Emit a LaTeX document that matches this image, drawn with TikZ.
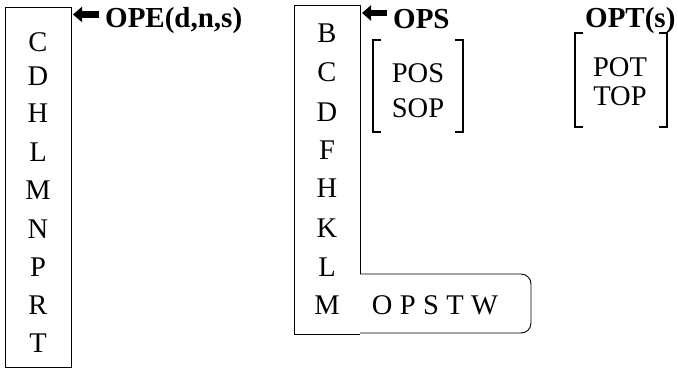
\documentclass[tikz,border=0pt]{standalone}
\usepackage{fontspec}
\setmainfont{Liberation Serif}
\usetikzlibrary{arrows.meta}
\begin{document}
\begin{tikzpicture}[x=1pt,y=-1pt,
  letter/.style={inner sep=0pt,font=\fontsize{28.5}{30}\selectfont},
  label/.style={inner sep=0pt,anchor=base west,font=\fontsize{29}{30}\selectfont\bfseries},
  boxline/.style={line width=0.9pt},
  brack/.style={line width=1.4pt},
  blockarrow/.style={line width=6.5pt,-{Triangle[length=9pt,width=15pt]}}]
\useasboundingbox (0,0) rectangle (678,368);
% left box
\draw[boxline] (5,7) rectangle (71,367);
\foreach \t/\y [count=\i] in {C/42,D/76,H/113,L/152,M/190,N/229,P/267,R/305,T/343}
  \node[letter] (a\i) at (38,\y) {\t};
\node[label] (ope) at (105,27) {OPE(d,n,s)};
\coordinate (ltip) at (73,14.5);
\draw[blockarrow] ([xshift=-6pt]ope.west |- ltip) -- (ltip);
% middle L-shaped box
\draw[boxline] (360,274) -- (360,5) -- (294,5) -- (294,334) -- (360,334);
\draw[boxline,rounded corners=10pt] (360,274) -- (531,274) -- (531,333) -- (360,333);
\foreach \t/\y [count=\i] in {B/33,C/72,D/112,F/150,H/188,K/228,L/267,M/305}
  \node[letter] (b\i) at (327,\y) {\t};
\node[letter] (opstw) at (435,305) {O\hspace{7.4pt}P\hspace{7.4pt}S\hspace{7.4pt}T\hspace{7.4pt}W};
\node[label] (ops) at (393,28) {OPS};
\coordinate (mtip) at (362,13);
\draw[blockarrow] ([xshift=-6pt]ops.west |- mtip) -- (mtip);
% POS / SOP bracket
\node[letter] (pos) at (418,73.5) {POS};
\node[letter] (sop) at (418,108.5) {SOP};
\draw[brack] (381,40) -- (373,40) -- (373,132) -- (381,132);
\draw[brack] (455,40) -- (463,40) -- (463,132) -- (455,132);
% OPT(s)
\node[label] (opt) at (585,27) {OPT(s)};
\node[letter] (pot) at (620,67) {POT};
\node[letter] (top) at (620,96) {TOP};
\draw[brack] (583,33) -- (575,33) -- (575,127) -- (583,127);
\draw[brack] (659,33) -- (667,33) -- (667,127) -- (659,127);
\end{tikzpicture}
\end{document}
